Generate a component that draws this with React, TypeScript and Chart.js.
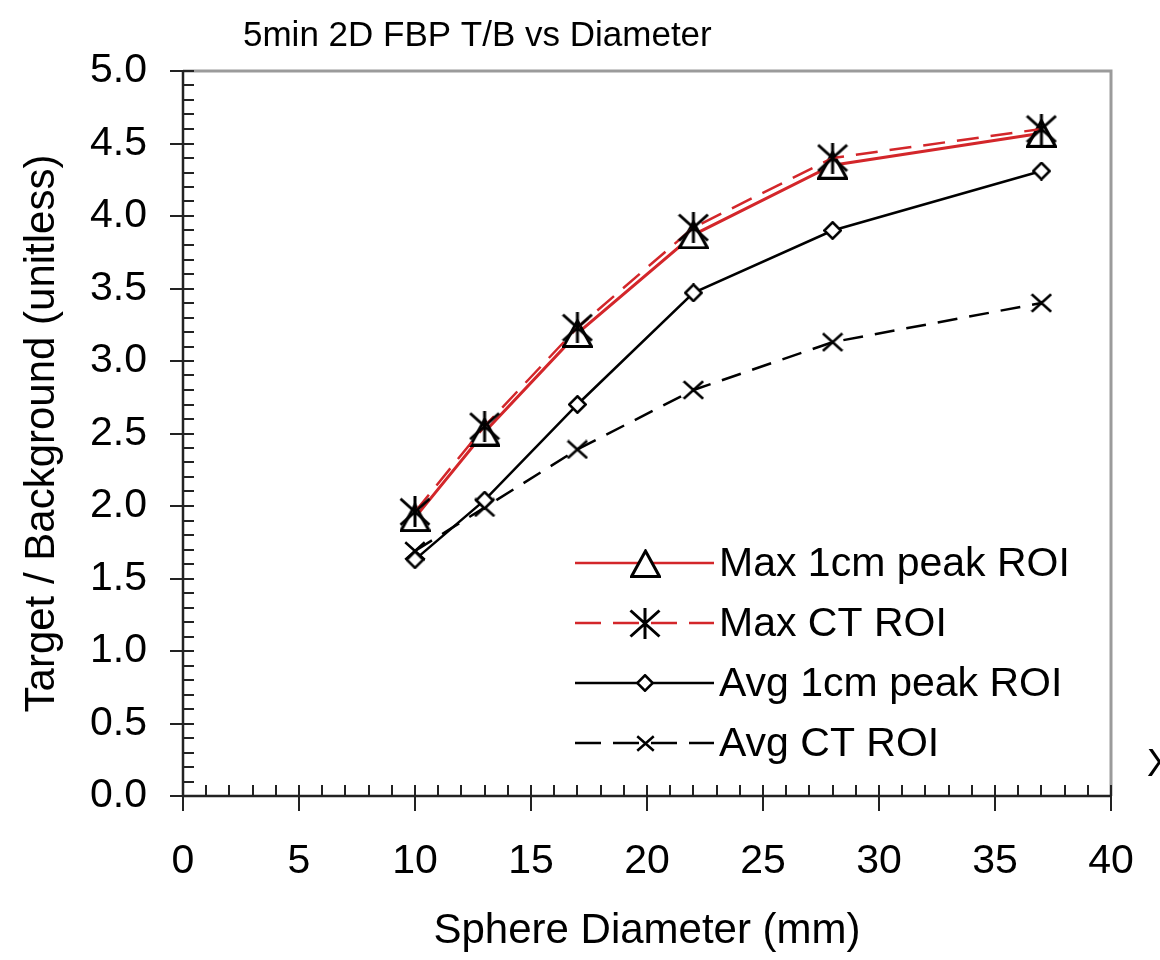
import React, { useEffect, useRef } from 'react';
import { Chart, registerables } from 'chart.js';

Chart.register(...registerables);

const FONT = "'Liberation Sans', Arial, Helvetica, sans-serif";

const TITLE = '5min 2D FBP T/B vs Diameter';
const X_TITLE = 'Sphere Diameter (mm)';
const Y_TITLE = 'Target / Background (unitless)';

const DIAMETERS = [10, 13, 17, 22, 28, 37];
const MAX_1CM_PEAK = [1.92, 2.51, 3.19, 3.87, 4.35, 4.57];
const MAX_CT = [1.96, 2.55, 3.23, 3.92, 4.4, 4.6];
const AVG_1CM_PEAK = [1.63, 2.04, 2.7, 3.47, 3.9, 4.31];
const AVG_CT = [1.69, 1.99, 2.39, 2.8, 3.13, 3.4];

const SERIES_NAMES = ['Max 1cm peak ROI', 'Max CT ROI', 'Avg 1cm peak ROI', 'Avg CT ROI'];

const X_TICKS = [0, 5, 10, 15, 20, 25, 30, 35, 40];
const Y_TICKS = [0, 0.5, 1, 1.5, 2, 2.5, 3, 3.5, 4, 4.5, 5];
const X_MINOR_STEP = 1;
const Y_MINOR_STEP = 0.1;

const RED = '#d3262a';

type MarkerKind = 'triangle' | 'asterisk' | 'diamond' | 'x';

function makeMarker(kind: MarkerKind, w: number, h: number, lw: number): HTMLCanvasElement {
  const c = document.createElement('canvas');
  c.width = w;
  c.height = h;
  const ctx = c.getContext('2d') as CanvasRenderingContext2D;
  ctx.strokeStyle = '#000';
  ctx.fillStyle = '#fff';
  ctx.lineWidth = lw;
  ctx.lineJoin = 'miter';
  const p = lw / 2;
  ctx.beginPath();
  if (kind === 'triangle') {
    ctx.moveTo(w / 2, p + 0.5);
    ctx.lineTo(w - p, h - p);
    ctx.lineTo(p, h - p);
    ctx.closePath();
    ctx.fill();
    ctx.stroke();
  } else if (kind === 'diamond') {
    ctx.moveTo(w / 2, p);
    ctx.lineTo(w - p, h / 2);
    ctx.lineTo(w / 2, h - p);
    ctx.lineTo(p, h / 2);
    ctx.closePath();
    ctx.fill();
    ctx.stroke();
  } else if (kind === 'x') {
    ctx.moveTo(p, p);
    ctx.lineTo(w - p, h - p);
    ctx.moveTo(w - p, p);
    ctx.lineTo(p, h - p);
    ctx.stroke();
  } else {
    ctx.moveTo(w / 2, 0);
    ctx.lineTo(w / 2, h);
    ctx.moveTo(p, p + 1);
    ctx.lineTo(w - p, h - p - 1);
    ctx.moveTo(w - p, p + 1);
    ctx.lineTo(p, h - p - 1);
    ctx.stroke();
  }
  return c;
}

export default function App() {
  const canvasRef = useRef<HTMLCanvasElement | null>(null);

  useEffect(() => {
    const canvas = canvasRef.current;
    if (!canvas) return;

    const triangle = makeMarker('triangle', 31, 29, 3);
    const asterisk = makeMarker('asterisk', 32, 31, 3);
    const diamond = makeMarker('diamond', 19, 19, 2.5);
    const xmark = makeMarker('x', 22, 20, 2.5);
    const legendDiamond = makeMarker('diamond', 18, 18, 2.5);
    const legendX = makeMarker('x', 19, 17, 2.5);

    const pts = (ys: number[]) => DIAMETERS.map((x, i) => ({ x, y: ys[i] }));

    const legendItems = [
      { color: RED, dash: [] as number[], marker: triangle, width: 2.5 },
      { color: RED, dash: [26, 12], marker: asterisk, width: 2.5 },
      { color: '#000', dash: [] as number[], marker: legendDiamond, width: 2.5 },
      { color: '#000', dash: [26, 12], marker: legendX, width: 2.5 },
    ];

    const decor = {
      id: 'decor',
      beforeDatasetsDraw(chart: any) {
        const ctx = chart.ctx as CanvasRenderingContext2D;
        const { left, right, top, bottom } = chart.chartArea;
        const xs = chart.scales.x;
        const ys = chart.scales.y;
        ctx.save();
        ctx.strokeStyle = '#9b9b9b';
        ctx.lineWidth = 3;
        ctx.beginPath();
        ctx.moveTo(left, top);
        ctx.lineTo(right, top);
        ctx.lineTo(right, bottom);
        ctx.stroke();
        ctx.strokeStyle = '#222';
        ctx.lineWidth = 2.5;
        ctx.beginPath();
        ctx.moveTo(left, top - 1);
        ctx.lineTo(left, bottom);
        ctx.lineTo(right + 1, bottom);
        ctx.stroke();
        ctx.lineWidth = 2;
        ctx.beginPath();
        const yMin = ys.min, yMax = ys.max;
        const nY = Math.round((yMax - yMin) / Y_MINOR_STEP);
        for (let i = 0; i <= nY; i++) {
          const v = yMin + i * Y_MINOR_STEP;
          const py = Math.round(ys.getPixelForValue(v));
          const major = Y_TICKS.some((t) => Math.abs(t - v) < 1e-6);
          ctx.moveTo(major ? left - 13 : left, py);
          ctx.lineTo(left + 11, py);
        }
        const xMin = xs.min, xMax = xs.max;
        const nX = Math.round((xMax - xMin) / X_MINOR_STEP);
        for (let i = 0; i <= nX; i++) {
          const v = xMin + i * X_MINOR_STEP;
          const px = Math.round(xs.getPixelForValue(v));
          const major = X_TICKS.some((t) => Math.abs(t - v) < 1e-6);
          ctx.moveTo(px, bottom - 11);
          ctx.lineTo(px, major ? bottom + 15 : bottom);
        }
        ctx.stroke();
        ctx.restore();
      },
      afterDraw(chart: any) {
        const ctx = chart.ctx as CanvasRenderingContext2D;
        ctx.save();
        ctx.fillStyle = '#000';
        ctx.font = `35px ${FONT}`;
        ctx.textBaseline = 'alphabetic';
        ctx.textAlign = 'left';
        ctx.fillText(TITLE, 243, 46);

        ctx.font = `38px ${FONT}`;
        ctx.textBaseline = 'middle';
        ctx.fillText('X', 1147, 766);

        const x0 = 575, x1 = 714, mx = 645, tx = 719;
        const rowY = [563, 623, 683, 743];
        ctx.font = `41px ${FONT}`;
        ctx.textBaseline = 'middle';
        legendItems.forEach((it, i) => {
          const y = rowY[i];
          ctx.strokeStyle = it.color;
          ctx.lineWidth = it.width;
          ctx.setLineDash(it.dash);
          ctx.beginPath();
          ctx.moveTo(x0, y);
          ctx.lineTo(x1, y);
          ctx.stroke();
          ctx.setLineDash([]);
          const m = it.marker;
          ctx.drawImage(m, Math.round(mx - m.width / 2), Math.round(y - m.height / 2));
          ctx.fillStyle = '#000';
          ctx.fillText(SERIES_NAMES[i], tx, y + 2);
        });
        ctx.restore();
      },
    };

    const tickFont = { family: FONT, size: 41 };
    const titleFont = { family: FONT, size: 42 };

    const chart = new Chart(canvas, {
      type: 'scatter',
      data: {
        datasets: [
          {
            label: SERIES_NAMES[0],
            data: pts(MAX_1CM_PEAK),
            showLine: true,
            borderColor: RED,
            borderWidth: 3,
            pointStyle: triangle as any,
            order: 2,
          },
          {
            label: SERIES_NAMES[1],
            data: pts(MAX_CT),
            showLine: true,
            borderColor: RED,
            borderWidth: 2.5,
            borderDash: [22, 12],
            pointStyle: asterisk as any,
            order: 1,
          },
          {
            label: SERIES_NAMES[2],
            data: pts(AVG_1CM_PEAK),
            showLine: true,
            borderColor: '#000',
            borderWidth: 2.5,
            pointStyle: diamond as any,
            order: 3,
          },
          {
            label: SERIES_NAMES[3],
            data: pts(AVG_CT),
            showLine: true,
            borderColor: '#000',
            borderWidth: 2.5,
            borderDash: [20, 12],
            pointStyle: xmark as any,
            order: 4,
          },
        ],
      },
      options: {
        responsive: false,
        animation: false,
        devicePixelRatio: 1,
        layout: { padding: { top: 71, right: 49, left: 0, bottom: 0 } },
        plugins: {
          legend: { display: false },
          title: { display: false },
          tooltip: { enabled: false },
        },
        scales: {
          x: {
            type: 'linear',
            min: 0,
            max: 40,
            afterBuildTicks: (s: any) => {
              s.ticks = X_TICKS.map((v) => ({ value: v }));
            },
            afterFit: (s: any) => {
              s.height = 164;
            },
            ticks: {
              font: tickFont,
              color: '#000',
              padding: 0,
              maxRotation: 0,
              autoSkip: false,
              callback: (v: any) => String(v),
            },
            grid: {
              display: true,
              drawOnChartArea: false,
              drawTicks: true,
              tickLength: 41,
              tickColor: 'rgba(0,0,0,0)',
            },
            border: { display: false },
            title: {
              display: true,
              text: X_TITLE,
              color: '#000',
              font: titleFont,
              padding: { top: 0, bottom: 3 },
            },
          },
          y: {
            type: 'linear',
            min: 0,
            max: 5,
            afterBuildTicks: (s: any) => {
              s.ticks = Y_TICKS.map((v) => ({ value: v }));
            },
            afterFit: (s: any) => {
              s.width = 183;
            },
            ticks: {
              font: tickFont,
              color: '#000',
              padding: 36,
              autoSkip: false,
              callback: (v: any) => Number(v).toFixed(1),
            },
            grid: { display: false, drawTicks: false },
            border: { display: false },
            title: {
              display: true,
              text: Y_TITLE,
              color: '#000',
              font: titleFont,
              padding: { top: 17, bottom: 0 },
            },
          },
        },
      } as any,
      plugins: [decor],
    });

    return () => {
      chart.destroy();
    };
  }, []);

  return (
    <div style={{ position: 'absolute', left: 0, top: 0, width: 1160, height: 960, background: '#fff' }}>
      <canvas ref={canvasRef} width={1160} height={960} style={{ width: 1160, height: 960, display: 'block' }} />
    </div>
  );
}
